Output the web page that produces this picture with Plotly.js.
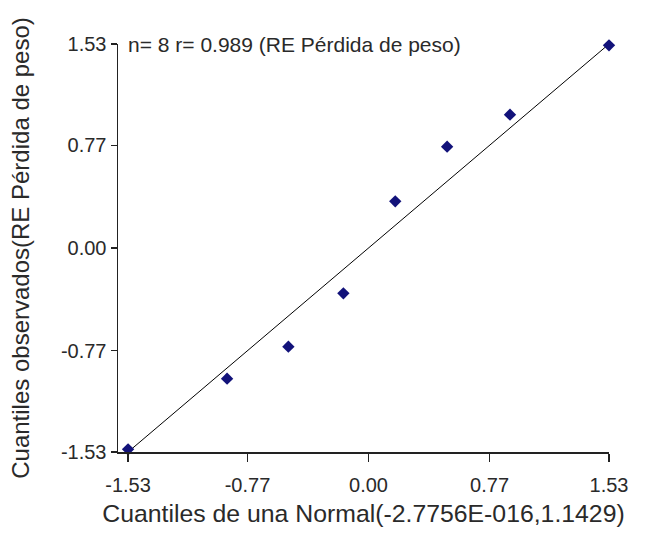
<!DOCTYPE html>
<html>
<head>
<meta charset="utf-8">
<script src="https://cdn.plot.ly/plotly-3.0.1.min.js"></script>
<style>html,body{margin:0;padding:0;background:#fff;}#chart{width:655px;height:552px;}</style>
</head>
<body>
<div id="chart"></div>
<script>
// Theoretical normal quantiles (x) and observed quantiles (y)
const normalQuantiles = [-1.53, -0.90, -0.51, -0.16, 0.17, 0.50, 0.90, 1.53];
const observedQuantiles = [-1.51, -0.98, -0.74, -0.34, 0.35, 0.76, 1.00, 1.52];
// Reference line y = x
const refLineX = [-1.53, 1.53];
const refLineY = [-1.53, 1.53];
const tickValues = [-1.53, -0.77, 0.00, 0.77, 1.53];
const tickLabels = ["-1.53", "-0.77", "0.00", "0.77", "1.53"];
const infoText = "n= 8 r= 0.989 (RE Pérdida de peso)";
const xTitle = "Cuantiles de una Normal(-2.7756E-016,1.1429)";
const yTitle = "Cuantiles observados(RE Pérdida de peso)";

const FONT = "Liberation Sans, Arial, sans-serif";
const TXT = "#2a2a2a";

const traces = [
  {
    x: refLineX, y: refLineY, type: "scatter", mode: "lines",
    line: {color: "#000000", width: 1}, hoverinfo: "skip", cliponaxis: false
  },
  {
    x: normalQuantiles, y: observedQuantiles, type: "scatter", mode: "markers",
    marker: {symbol: "diamond", size: 9.5, color: "#12127a"}, cliponaxis: false
  }
];

const layout = {
  width: 655, height: 552,
  margin: {l: 118, r: 46, t: 44, b: 100, pad: 0},
  paper_bgcolor: "#ffffff", plot_bgcolor: "#ffffff",
  showlegend: false,
  font: {family: FONT, color: TXT, size: 20},
  xaxis: {
    range: [-1.594, 1.53], tickmode: "array", tickvals: tickValues, ticktext: tickLabels,
    showgrid: false, zeroline: false, showline: true, linecolor: "#222222", linewidth: 1.5,
    ticks: "outside", ticklen: 8, tickwidth: 1.5, tickcolor: "#222222",
    ticklabelstandoff: 6,
    tickfont: {family: FONT, size: 20, color: TXT},
    title: {text: xTitle, font: {family: FONT, size: 24.8, color: TXT}, standoff: 10},
    fixedrange: true
  },
  yaxis: {
    range: [-1.53, 1.53], tickmode: "array", tickvals: tickValues, ticktext: tickLabels,
    showgrid: false, zeroline: false, showline: true, linecolor: "#222222", linewidth: 1.5,
    ticks: "outside", ticklen: 6, tickwidth: 1.5, tickcolor: "#222222",
    tickfont: {family: FONT, size: 20, color: TXT},
    title: {text: yTitle, font: {family: FONT, size: 24, color: TXT}, standoff: 24},
    fixedrange: true
  },
  annotations: [
    {
      text: infoText, xref: "paper", yref: "paper", x: 0.016, y: 1.0,
      xanchor: "left", yanchor: "middle", showarrow: false,
      font: {family: FONT, size: 21, color: TXT}
    }
  ]
};

Plotly.newPlot("chart", traces, layout, {displayModeBar: false, staticPlot: true});
</script>
</body>
</html>
